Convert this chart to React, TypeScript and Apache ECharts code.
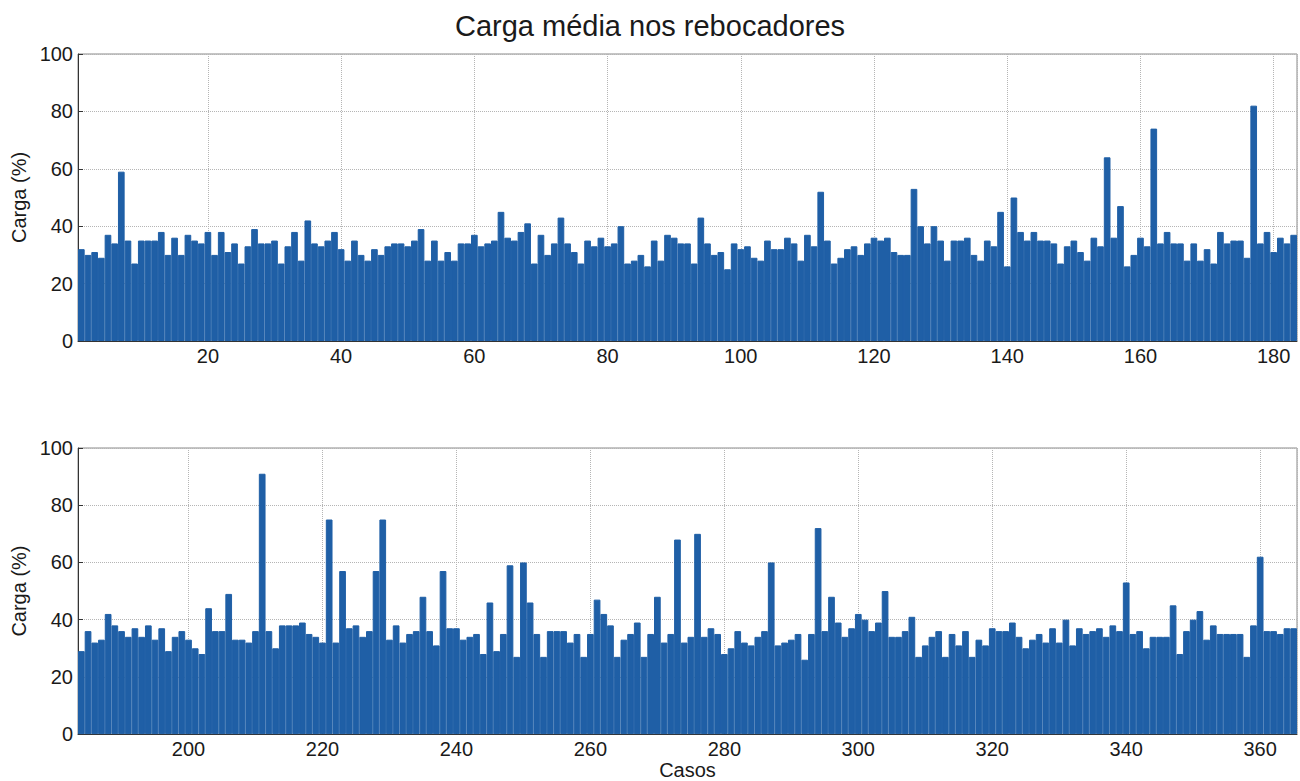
import React, { useEffect, useRef } from "react";
import * as echarts from "echarts";

const TITLE = "Carga média nos rebocadores";
const Y_NAME = "Carga (%)";
const X_NAME = "Casos";

// Cases 1..183 (top panel)
const TOP_FIRST_CASE = 1;
const TOP_VALUES = [
  32, 30, 31, 29, 37, 34, 59, 35, 27, 35,
  35, 35, 38, 30, 36, 30, 37, 35, 34, 38,
  30, 38, 31, 34, 27, 33, 39, 34, 34, 35,
  27, 33, 38, 28, 42, 34, 33, 35, 38, 32,
  28, 35, 30, 28, 32, 30, 33, 34, 34, 33,
  35, 39, 28, 35, 28, 31, 28, 34, 34, 37,
  33, 34, 35, 45, 36, 35, 38, 41, 27, 37,
  30, 34, 43, 34, 31, 27, 35, 33, 36, 33,
  34, 40, 27, 28, 30, 26, 35, 28, 37, 36,
  34, 34, 27, 43, 34, 30, 31, 25, 34, 32,
  33, 29, 28, 35, 32, 32, 36, 34, 28, 37,
  33, 52, 35, 27, 29, 32, 33, 30, 34, 36,
  35, 36, 31, 30, 30, 53, 40, 34, 40, 35,
  28, 35, 35, 36, 30, 28, 35, 33, 45, 26,
  50, 38, 35, 38, 35, 35, 34, 27, 33, 35,
  31, 28, 36, 33, 64, 36, 47, 26, 30, 36,
  33, 74, 34, 38, 34, 34, 28, 34, 28, 32,
  27, 38, 34, 35, 35, 29, 82, 34, 38, 31,
  36, 34, 37,
];

// Cases 184..365 (bottom panel)
const BOTTOM_FIRST_CASE = 184;
const BOTTOM_VALUES = [
  29, 36, 32, 33, 42, 38, 36, 34, 37, 34,
  38, 33, 37, 29, 34, 36, 33, 30, 28, 44,
  36, 36, 49, 33, 33, 32, 36, 91, 36, 30,
  38, 38, 38, 39, 35, 34, 32, 75, 32, 57,
  37, 38, 34, 36, 57, 75, 33, 38, 32, 35,
  36, 48, 36, 31, 57, 37, 37, 33, 34, 35,
  28, 46, 29, 35, 59, 27, 60, 46, 35, 27,
  36, 36, 36, 32, 35, 27, 35, 47, 42, 38,
  27, 33, 35, 39, 27, 35, 48, 32, 35, 68,
  32, 34, 70, 34, 37, 35, 28, 30, 36, 32,
  31, 34, 36, 60, 31, 32, 33, 35, 26, 35,
  72, 36, 48, 39, 34, 37, 42, 40, 36, 39,
  50, 34, 34, 36, 41, 27, 31, 34, 36, 27,
  35, 31, 36, 27, 33, 31, 37, 36, 36, 39,
  34, 30, 33, 35, 32, 37, 32, 40, 31, 37,
  35, 36, 37, 34, 38, 36, 53, 35, 36, 30,
  34, 34, 34, 45, 28, 36, 40, 43, 33, 38,
  35, 35, 35, 35, 27, 38, 62, 36, 36, 35,
  37, 37,
];

const TOP_X_RANGE = [0.5, 183.5];
const BOTTOM_X_RANGE = [183.5, 365.5];
const Y_RANGE = [0, 100];
const Y_STEP = 20;
const X_STEP = 20;

const BAR_COLOR = "#1f5fa6";
const FONT = "'Liberation Sans', Arial, Helvetica, sans-serif";
const TEXT_COLOR = "#1a1a1a";

function toPairs(first: number, values: number[]) {
  return values.map((v, i) => [first + i, v]);
}

export default function App() {
  const ref = useRef<HTMLDivElement>(null);

  useEffect(() => {
    if (!ref.current) return;
    const chart = echarts.init(ref.current, undefined, { renderer: "svg" });

    const splitLine = {
      show: true,
      lineStyle: { type: "dotted" as const, color: "#b5b5b5", width: 1 },
    };
    const axisLine = { show: true, onZero: false, lineStyle: { color: "#333", width: 1 } };
    const axisTick = { show: true, inside: true, length: 5, lineStyle: { color: "#333" } };
    const label = { fontFamily: FONT, fontSize: 20, color: TEXT_COLOR, margin: 5 };
    const nameStyle = { fontFamily: FONT, fontSize: 20, color: TEXT_COLOR };

    const xAxis = (gridIndex: number, range: number[], withName: boolean) => ({
      type: "value" as const,
      gridIndex,
      min: range[0],
      max: range[1],
      minInterval: X_STEP,
      maxInterval: X_STEP,
      splitNumber: 9,
      axisLine,
      axisTick,
      splitLine,
      axisLabel: { ...label, showMinLabel: false, showMaxLabel: false },
      name: withName ? X_NAME : "",
      nameLocation: "middle" as const,
      nameGap: 25,
      nameTextStyle: nameStyle,
    });

    const yAxis = (gridIndex: number) => ({
      type: "value" as const,
      gridIndex,
      min: Y_RANGE[0],
      max: Y_RANGE[1],
      interval: Y_STEP,
      axisLine,
      axisTick,
      splitLine,
      axisLabel: { ...label },
      name: Y_NAME,
      nameLocation: "middle" as const,
      nameGap: 49,
      nameRotate: 90,
      nameTextStyle: nameStyle,
    });

    const barSeries = (idx: number, data: number[][]) => ({
      type: "bar" as const,
      xAxisIndex: idx,
      yAxisIndex: idx,
      data,
      barWidth: "100%",
      itemStyle: { color: BAR_COLOR, borderColor: BAR_COLOR, borderWidth: 1 },
      emphasis: { disabled: true },
    });

    chart.setOption({
      animation: false,
      backgroundColor: "#ffffff",
      title: {
        text: TITLE,
        left: "center",
        top: 6,
        textStyle: { fontFamily: FONT, fontSize: 29, fontWeight: "normal", color: TEXT_COLOR },
      },
      grid: [
        { left: 78, right: 3, top: 54, height: 287, show: true, borderColor: "#8a8a8a", borderWidth: 1, backgroundColor: "#fff" },
        { left: 78, right: 3, top: 448, height: 287, show: true, borderColor: "#8a8a8a", borderWidth: 1, backgroundColor: "#fff" },
      ],
      xAxis: [xAxis(0, TOP_X_RANGE, false), xAxis(1, BOTTOM_X_RANGE, true)],
      yAxis: [yAxis(0), yAxis(1)],
      series: [
        barSeries(0, toPairs(TOP_FIRST_CASE, TOP_VALUES)),
        barSeries(1, toPairs(BOTTOM_FIRST_CASE, BOTTOM_VALUES)),
      ],
    });

    return () => chart.dispose();
  }, []);

  return (
    <div
      ref={ref}
      style={{ position: "absolute", left: 0, top: 0, width: 1300, height: 781, background: "#fff" }}
    />
  );
}
